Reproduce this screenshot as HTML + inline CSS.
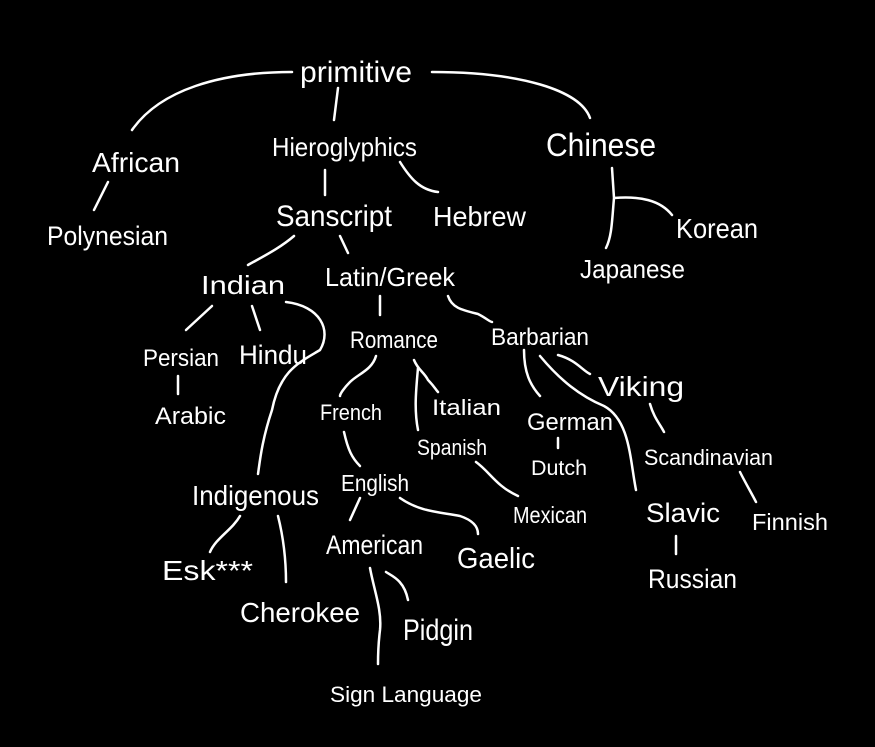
<!DOCTYPE html>
<html><head><meta charset="utf-8"><style>
html,body{margin:0;padding:0;background:#000;width:875px;height:747px;overflow:hidden}
svg text{fill:#fff;font-family:"Liberation Sans",sans-serif}
path{stroke:#fff;stroke-width:2.5;fill:none;stroke-linecap:round}
</style></head><body>
<svg width="875" height="747" viewBox="0 0 875 747" xmlns="http://www.w3.org/2000/svg">
<rect width="875" height="747" fill="#000"/>
<g>
<path d="M292 72 C220 72 160 90 132 130"/>
<path d="M432 72 C520 72 580 90 590 118"/>
<path d="M338 88 L334 120"/>
<path d="M108 182 L94 210"/>
<path d="M325 170 L325 195"/>
<path d="M400 162 C410 178 420 190 438 192"/>
<path d="M612 168 L614 198 M614 198 C612 220 612 236 606 248 M614 198 C640 196 660 200 672 215"/>
<path d="M294 236 C280 248 264 256 248 265"/>
<path d="M340 236 L348 253"/>
<path d="M380 296 L380 315"/>
<path d="M448 296 C452 308 462 310 478 314 C486 318 490 322 492 322"/>
<path d="M212 306 L186 330"/>
<path d="M252 306 L260 330"/>
<path d="M286 302 C320 306 332 330 320 350 C300 362 280 370 272 410 C262 440 260 460 258 474"/>
<path d="M178 376 L178 394"/>
<path d="M376 356 C372 370 358 374 350 382 C344 388 340 394 340 396"/>
<path d="M414 360 C418 370 424 372 428 380 C434 386 436 390 438 392"/>
<path d="M418 368 C416 390 414 410 418 430"/>
<path d="M524 350 C524 372 530 385 540 396"/>
<path d="M540 356 C560 380 580 396 604 406 C630 420 630 460 636 490"/>
<path d="M558 355 C576 360 582 370 590 374"/>
<path d="M344 432 C348 450 352 458 360 466"/>
<path d="M558 438 L558 448"/>
<path d="M650 404 C654 418 660 424 664 432"/>
<path d="M740 472 C746 484 752 494 756 502"/>
<path d="M476 462 C490 472 496 486 518 496"/>
<path d="M400 498 C420 512 440 512 460 516 C472 520 478 526 478 534"/>
<path d="M360 498 L350 520"/>
<path d="M240 516 C232 530 216 538 210 552"/>
<path d="M278 516 C284 540 286 560 286 582"/>
<path d="M676 536 L676 554"/>
<path d="M370 568 C374 590 382 610 380 630 C378 646 378 658 378 664"/>
<path d="M386 572 C392 576 404 580 408 600"/>
</g>
<g>
<text x="300" y="82" font-size="30" textLength="112" lengthAdjust="spacingAndGlyphs">primitive</text>
<text x="92" y="172" font-size="28" textLength="88" lengthAdjust="spacingAndGlyphs">African</text>
<text x="272" y="156" font-size="26" textLength="145" lengthAdjust="spacingAndGlyphs">Hieroglyphics</text>
<text x="546" y="156" font-size="32" textLength="110" lengthAdjust="spacingAndGlyphs">Chinese</text>
<text x="47" y="245" font-size="27" textLength="121" lengthAdjust="spacingAndGlyphs">Polynesian</text>
<text x="276" y="226" font-size="30" textLength="116" lengthAdjust="spacingAndGlyphs">Sanscript</text>
<text x="433" y="226" font-size="28" textLength="93" lengthAdjust="spacingAndGlyphs">Hebrew</text>
<text x="676" y="238" font-size="28" textLength="82" lengthAdjust="spacingAndGlyphs">Korean</text>
<text x="580" y="278" font-size="26" textLength="105" lengthAdjust="spacingAndGlyphs">Japanese</text>
<text x="201" y="294" font-size="26" textLength="84" lengthAdjust="spacingAndGlyphs">Indian</text>
<text x="325" y="286" font-size="26" textLength="130" lengthAdjust="spacingAndGlyphs">Latin/Greek</text>
<text x="143" y="366" font-size="24" textLength="76" lengthAdjust="spacingAndGlyphs">Persian</text>
<text x="239" y="364" font-size="27" textLength="68" lengthAdjust="spacingAndGlyphs">Hindu</text>
<text x="350" y="348" font-size="24" textLength="88" lengthAdjust="spacingAndGlyphs">Romance</text>
<text x="491" y="345" font-size="24" textLength="98" lengthAdjust="spacingAndGlyphs">Barbarian</text>
<text x="598" y="396" font-size="28" textLength="86" lengthAdjust="spacingAndGlyphs">Viking</text>
<text x="155" y="424" font-size="24" textLength="71" lengthAdjust="spacingAndGlyphs">Arabic</text>
<text x="320" y="420" font-size="22" textLength="62" lengthAdjust="spacingAndGlyphs">French</text>
<text x="432" y="415" font-size="22" textLength="69" lengthAdjust="spacingAndGlyphs">Italian</text>
<text x="527" y="430" font-size="24" textLength="86" lengthAdjust="spacingAndGlyphs">German</text>
<text x="417" y="455" font-size="22" textLength="70" lengthAdjust="spacingAndGlyphs">Spanish</text>
<text x="531" y="475" font-size="21" textLength="56" lengthAdjust="spacingAndGlyphs">Dutch</text>
<text x="644" y="465" font-size="22" textLength="129" lengthAdjust="spacingAndGlyphs">Scandinavian</text>
<text x="192" y="505" font-size="28" textLength="127" lengthAdjust="spacingAndGlyphs">Indigenous</text>
<text x="341" y="491" font-size="23" textLength="68" lengthAdjust="spacingAndGlyphs">English</text>
<text x="513" y="523" font-size="23" textLength="74" lengthAdjust="spacingAndGlyphs">Mexican</text>
<text x="646" y="522" font-size="27" textLength="74" lengthAdjust="spacingAndGlyphs">Slavic</text>
<text x="752" y="530" font-size="23" textLength="76" lengthAdjust="spacingAndGlyphs">Finnish</text>
<text x="162" y="580" font-size="28" textLength="91" lengthAdjust="spacingAndGlyphs">Esk***</text>
<text x="326" y="554" font-size="27" textLength="97" lengthAdjust="spacingAndGlyphs">American</text>
<text x="457" y="568" font-size="29" textLength="78" lengthAdjust="spacingAndGlyphs">Gaelic</text>
<text x="648" y="588" font-size="27" textLength="89" lengthAdjust="spacingAndGlyphs">Russian</text>
<text x="240" y="622" font-size="28" textLength="120" lengthAdjust="spacingAndGlyphs">Cherokee</text>
<text x="403" y="640" font-size="30" textLength="70" lengthAdjust="spacingAndGlyphs">Pidgin</text>
<text x="330" y="702" font-size="22" textLength="152" lengthAdjust="spacingAndGlyphs">Sign Language</text>
</g>
</svg>
</body></html>
